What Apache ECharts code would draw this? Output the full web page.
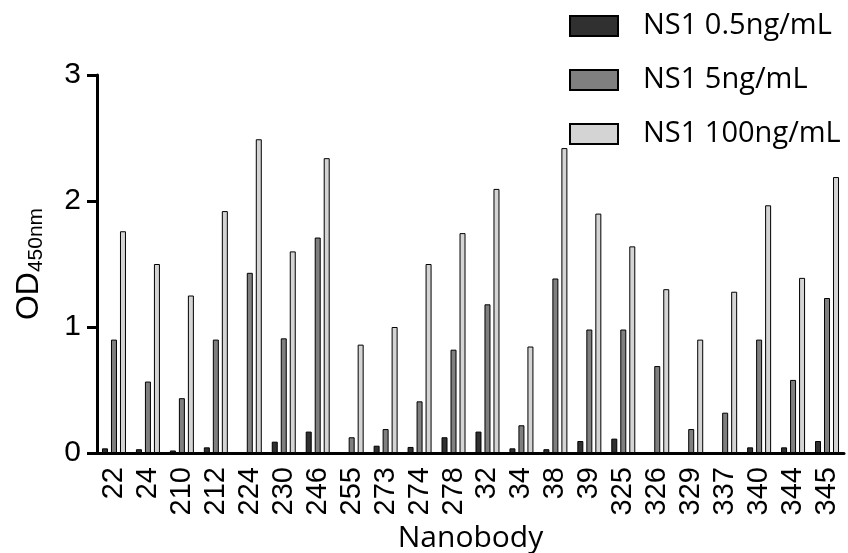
<!DOCTYPE html>
<html>
<head>
<meta charset="utf-8">
<script src="https://cdn.jsdelivr.net/npm/echarts@6/dist/echarts.min.js"></script>
<style>html,body{margin:0;padding:0;background:#fff;}#c{width:848px;height:553px;}</style>
</head>
<body>
<div id="c"></div>
<script>
const categories = ['22','24','210','212','224','230','246','255','273','274','278','32','34','38','39','325','326','329','337','340','344','345'];
const ns1Low = [0.037,0.03,0.02,0.045,0,0.09,0.17,0,0.058,0.048,0.125,0.17,0.037,0.03,0.095,0.114,0,0,0,0.045,0.045,0.095];
const ns1Mid = [0.90,0.567,0.435,0.90,1.43,0.91,1.71,0.125,0.19,0.41,0.82,1.18,0.22,1.385,0.98,0.98,0.69,0.19,0.32,0.90,0.58,1.23];
const ns1High = [1.76,1.50,1.25,1.92,2.49,1.60,2.34,0.86,1.00,1.50,1.745,2.096,0.845,2.42,1.90,1.64,1.30,0.90,1.28,1.966,1.39,2.19];
const seriesNames = ['NS1 0.5ng/mL','NS1 5ng/mL','NS1 100ng/mL'];
const yTicks = [0,1,2,3];

const chart = echarts.init(document.getElementById('c'));
const sansFont = 'Liberation Sans, Arial, sans-serif';
const narrowFont = 'Liberation Sans Narrow, Arial Narrow, Liberation Sans, sans-serif';
const labelFont = 'Open Sans, Noto Sans, sans-serif';
function bar(name, data, color){
  return {name, type:'bar', data, barWidth:6, barGap:'50%',
    itemStyle:{color, borderColor:'#000', borderWidth:1}};
}
chart.setOption({
  animation:false,
  backgroundColor:'#fff',
  grid:{left:97, right:4, top:75, bottom:100, containLabel:false, outerBoundsMode:'none'},
  legend:{orient:'vertical', left:569, top:7, padding:0, icon:'rect', itemWidth:48, itemHeight:20, itemGap:16,
    textStyle:{fontSize:29, fontFamily:labelFont, color:'#000', padding:[0,0,0,20], lineHeight:38},
    data:seriesNames},
  xAxis:{type:'category', data:categories,
    axisLine:{lineStyle:{color:'#000', width:3}},
    axisTick:{alignWithLabel:true, length:10, lineStyle:{color:'#000', width:3}},
    axisLabel:{rotate:90, margin:14, fontSize:29, fontFamily:narrowFont, color:'#000', interval:0},
    name:'Nanobody', nameLocation:'middle', nameGap:70,
    nameTextStyle:{fontSize:30, fontFamily:labelFont, color:'#000'}},
  yAxis:{type:'value', min:yTicks[0], max:yTicks[yTicks.length-1], interval:1,
    axisLine:{show:true, lineStyle:{color:'#000', width:3}},
    axisTick:{show:true, length:10, lineStyle:{color:'#000', width:3}},
    splitLine:{show:false},
    axisLabel:{fontSize:30, margin:16, fontFamily:sansFont, color:'#000'},
    name:'{a|OD}{b|450nm}', nameLocation:'middle', nameRotate:90, nameGap:50,
    nameTextStyle:{color:'#000', rich:{
      a:{fontSize:32, fontFamily:narrowFont, color:'#000'},
      b:{fontSize:21, fontFamily:narrowFont, color:'#000', padding:[14,0,0,0]}
    }}},
  series:[bar(seriesNames[0], ns1Low, '#303030'), bar(seriesNames[1], ns1Mid, '#7f7f7f'), bar(seriesNames[2], ns1High, '#d4d4d4')]
});
</script>
</body>
</html>
